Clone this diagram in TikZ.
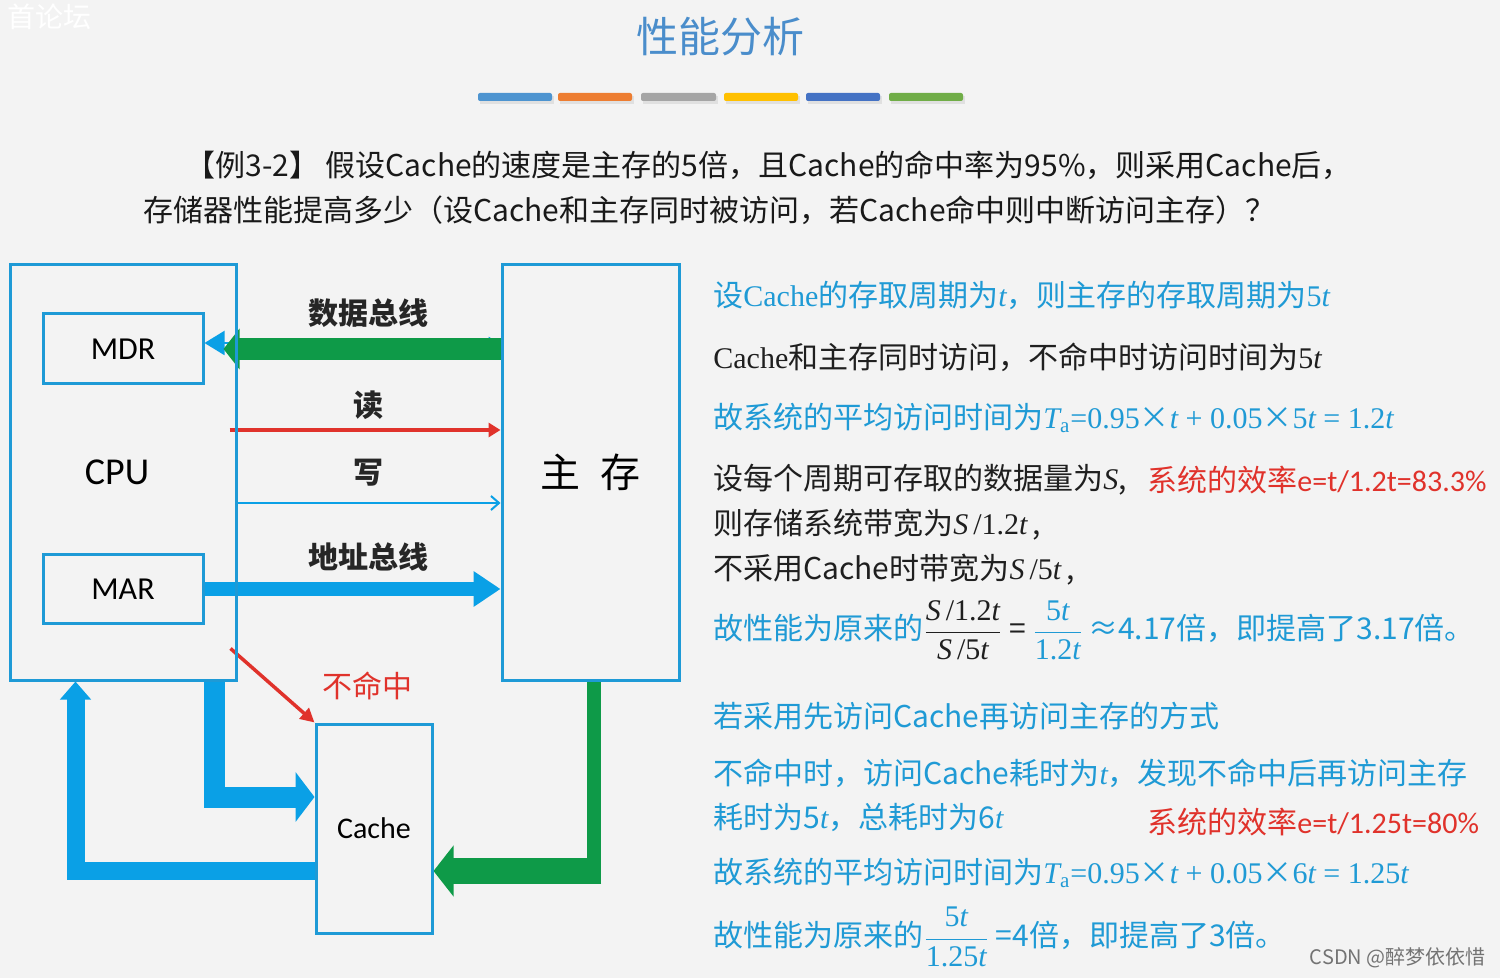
\documentclass[tikz,border=0pt]{standalone}
\usepackage{fontspec}
\setmainfont{Noto Sans CJK SC}
\newfontfamily\serifnum{Liberation Serif}
\newfontfamily\calibrif{Carlito}
\usetikzlibrary{arrows.meta,backgrounds,positioning}

\definecolor{pagebg}{HTML}{F3F3F3}
\definecolor{boxblue}{HTML}{1E9AD6}
\definecolor{busblue}{HTML}{0AA0E6}
\definecolor{busgreen}{HTML}{0E9A48}
\definecolor{txtblue}{HTML}{1F9AD5}
\definecolor{txtred}{HTML}{E0322B}
\definecolor{titleblue}{HTML}{4A8DCB}

\newcommand\mv[1]{{\serifnum\itshape #1}}
\newcommand\tms{{\rmfamily ×}}

\begin{document}
\begin{tikzpicture}[x=0.5pt, y=-0.5pt,
  box/.style={draw=boxblue, line width=1.5pt, inner sep=0pt},
  buslabel/.style={font=\bfseries\fontsize{15}{18}\selectfont, text=black!85},
  note/.style={anchor=west, inner sep=0pt, font=\fontsize{15}{18}\selectfont}]

\useasboundingbox (0,0) rectangle (1500,978);
\begin{scope}[on background layer]
\fill[pagebg] (0,0) rectangle (1500,978);
\end{scope}

% Title and colour bars
\node[font=\fontsize{14}{16}\selectfont, text=white, anchor=west] (wmtop) at (0,17) {首论坛};
\node[font=\fontsize{21}{24}\selectfont, text=titleblue] (title) at (720,37) {性能分析};
\fill[black!12] (480,96) rectangle (554,104);
\fill[black!12] (560,96) rectangle (634,104);
\fill[black!12] (643,96) rectangle (718,104);
\fill[black!12] (726,96) rectangle (800,104);
\fill[black!12] (808,96) rectangle (882,104);
\fill[black!12] (891,96) rectangle (965,104);
\fill[rounded corners=1pt, fill={rgb,255:red,77;green,148;blue,208}] (478,93) rectangle (552,101);
\fill[rounded corners=1pt, fill={rgb,255:red,237;green,125;blue,49}] (558,93) rectangle (632,101);
\fill[rounded corners=1pt, fill={rgb,255:red,165;green,165;blue,165}] (641,93) rectangle (716,101);
\fill[rounded corners=1pt, fill={rgb,255:red,255;green,192;blue,0}] (724,93) rectangle (798,101);
\fill[rounded corners=1pt, fill={rgb,255:red,68;green,114;blue,196}] (806,93) rectangle (880,101);
\fill[rounded corners=1pt, fill={rgb,255:red,112;green,173;blue,71}] (889,93) rectangle (963,101);

% Question
\node[note, text=black!90] (q1) at (185,165) {【例3-2】 假设Cache的速度是主存的5倍，且Cache的命中率为95\%，则采用Cache后，};
\node[note, text=black!90] (q2) at (143,210) {存储器性能提高多少（设Cache和主存同时被访问，若Cache命中则中断访问主存）？};

% Boxes
\node[box, minimum width=113pt, minimum height=207.5pt, font=\calibrif\fontsize{19}{20}\selectfont] (cpu) at (123,472.5) {\kern-6pt CPU};
\node[box, minimum width=80pt, minimum height=35pt, font=\calibrif\fontsize{16}{18}\selectfont] (mdr) at (123,349) {MDR};
\node[box, minimum width=80pt, minimum height=34pt, font=\calibrif\fontsize{16}{18}\selectfont] (mar) at (123,589) {MAR};
\node[box, minimum width=88.5pt, minimum height=207.5pt, font=\fontsize{20}{22}\selectfont] (mem) at (590.5,472.5) {主\enspace 存};
\node[box, minimum width=58pt, minimum height=104.5pt, font=\calibrif\fontsize{15}{18}\selectfont] (cache) at (374,828.5) {Cache};

% Buses
\begin{scope}[on background layer]
\draw[busblue, line width=1pt, {Triangle[length=10pt,width=12pt]}-{Triangle[length=6pt,width=6pt]}] ([yshift=3pt]mdr.east) -- ([yshift=3pt]mem.west |- mdr.east);
\draw[busgreen, line width=11pt, -{Triangle[length=8pt,width=20pt]}] (mem.west |- mdr.east) -- ([xshift=9.5pt]mdr.east);
\draw[txtred, line width=2pt, -{Triangle[length=6pt,width=7pt]}] ([xshift=-4pt,yshift=21.25pt]cpu.east) -- ([yshift=21.25pt]mem.west);
\draw[busblue, line width=1pt, -{Straight Barb[length=4pt,width=7pt]}] ([yshift=-15.25pt]cpu.east) -- ([yshift=-15.25pt]mem.west);
\draw[busblue, line width=7pt, -{Triangle[length=13.5pt,width=17pt]}] (mar.east) -- (mem.west |- mar.east);

% Cache paths
\draw[txtred, line width=1.75pt, -{Triangle[length=7pt,width=7pt]}] ([xshift=-3.5pt,yshift=16.5pt]cpu.south east) -- (cache.north west);
\draw[busblue, line width=10.5pt, -{Triangle[length=9.5pt,width=24.5pt]}] ([xshift=-11.5pt]cpu.south east) |- ([yshift=15.75pt]cache.west);
\draw[busblue, line width=9pt, -{Triangle[length=9pt,width=15pt]}] ([yshift=-21.25pt]cache.west) -| ([xshift=33.5pt]cpu.south west);
\coordinate (gbend) at (594,871);
\draw[busgreen, line width=7pt] (mem.south -| gbend) -- ([yshift=-6.5pt]gbend);
\draw[busgreen, line width=13pt, -{Triangle[length=10pt,width=25pt]}] ([xshift=3.5pt]gbend) -- (gbend -| cache.east);
\end{scope}

% Bus labels
\node[buslabel] (lbldata) at (368,313) {数据总线};
\node[buslabel] (lblread) at (368,405) {读};
\node[buslabel] (lblwrite) at (368,473) {写};
\node[buslabel] (lbladdr) at (368,557) {地址总线};
\node[font=\fontsize{15}{18}\selectfont, text=txtred] (lblmiss) at (367,686) {不命中};

% Analysis
\node[note, text=txtblue] (n1) at (713,295) {设{\serifnum Cache}的存取周期为\mv{t}，则主存的存取周期为{\serifnum 5}\mv{t}};
\node[note, text=black!88] (n2) at (713,357) {{\serifnum Cache}和主存同时访问，不命中时访问时间为{\serifnum 5}\mv{t}};
\node[note, text=txtblue] (n3) at (713,418) {故系统的平均访问时间为{\serifnum\mv{T}\textsubscript{a}=0.95\tms\mv{t} + 0.05\tms 5\mv{t} = 1.2\mv{t}}};
\node[note, text=black!88] (n4) at (713,480) {设每个周期可存取的数据量为\mv{S},};
\node[note, text=txtred] (effa) at (1147,480) {系统的效率{\calibrif e=t/1.2t=83.3\%}};
\node[note, text=black!88] (n5) at (713,525) {则存储系统带宽为\mv{S}{\serifnum\,/1.2}\mv{t}\,,};
\node[note, text=black!88] (n6) at (713,570) {不采用Cache时带宽为\mv{S}{\serifnum\,/5}\mv{t}\,,};
\node[note, text=txtblue] (n7) at (713,630) {故性能为原来的{\color{black!88}$\displaystyle\frac{\mbox{\mv{S}{\serifnum\,/1.2}\mv{t}}}{\mbox{\mv{S}{\serifnum\,/5}\mv{t}}}$ = }$\displaystyle\frac{\mbox{{\serifnum 5}\mv{t}}}{\mbox{{\serifnum 1.2}\mv{t}}}$\,≈4.17倍，即提高了3.17倍。};
\node[note, text=txtblue] (n8) at (713,716) {若采用先访问Cache再访问主存的方式};
\node[note, text=txtblue] (n9) at (713,773) {不命中时，访问Cache耗时为\mv{t}，发现不命中后再访问主存};
\node[note, text=txtblue] (n10) at (713,818) {耗时为5\mv{t}，总耗时为6\mv{t}};
\node[note, text=txtred] (effb) at (1147,822) {系统的效率{\calibrif e=t/1.25t=80\%}};
\node[note, text=txtblue] (n11) at (713,873) {故系统的平均访问时间为{\serifnum\mv{T}\textsubscript{a}=0.95\tms\mv{t} + 0.05\tms 6\mv{t} = 1.25\mv{t}}};
\node[note, text=txtblue] (n12) at (713,937) {故性能为原来的$\displaystyle\frac{\mbox{{\serifnum 5}\mv{t}}}{\mbox{{\serifnum 1.25}\mv{t}}}$ =4倍，即提高了3倍。};

% Watermark
\node[anchor=east, inner sep=0pt, font=\fontsize{10}{12}\selectfont, text=black!55] (wm) at (1486,958) {CSDN @醉梦依依惜};

\end{tikzpicture}
\end{document}
